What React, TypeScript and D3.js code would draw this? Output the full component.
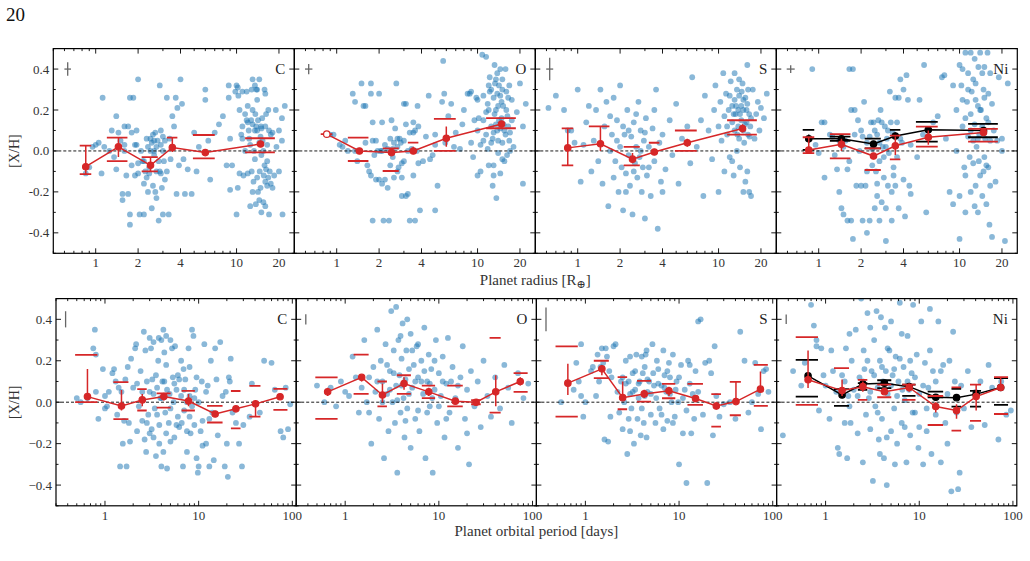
import * as d3 from "d3";

// bin centres and the x-span of the percentile dashes, shared by every panel in a row
const RADIUS_BINS = [0.85, 1.45, 2.45, 3.5, 6.0, 14.8];
const RADIUS_SPANS = [[0.77, 0.93], [1.2, 1.68], [2.12, 2.76], [3.2, 3.8], [4.9, 7.0], [11.5, 18.7]];
const PERIOD_BINS = [0.65, 1.5, 2.5, 4.25, 7.8, 15, 25, 40.5, 74];
const PERIOD_SPANS = [[0.48, 0.83], [1.23, 1.78], [2.21, 2.79], [3.56, 5.03], [6.58, 9.12], [12.3, 18], [22.1, 28], [34.8, 45.7], [62.8, 88.7]];

const RADIUS_TICKS = [1, 2, 4, 10, 20];
const PERIOD_TICKS = [1, 10, 100];
const ELEMENTS = ["C", "O", "S", "Ni"];

// [mean, err low, err high, lower dash, upper dash]
type Bin = (number | null)[];

const BIN_R_C: Bin[] = [
  [-0.077, -0.113, 0.026, -0.113, 0.026],
  [0.02, -0.03, 0.065, -0.05, 0.065],
  [-0.07, -0.1, -0.03, -0.1, -0.03],
  [0.017, -0.005, 0.065, null, 0.065],
  [-0.008, -0.02, 0.01, -0.036, 0.078],
  [0.034, 0.02, 0.045, -0.007, 0.062],
];
const BIN_R_O: Bin[] = [
  [0.082, null, null, null, 0.082],
  [0.0, null, null, -0.049, 0.065],
  [-0.008, -0.02, 0.0, -0.098, 0.013],
  [0.0, -0.01, 0.02, null, 0.041],
  [0.062, 0.021, 0.119, 0.0, 0.157],
  [0.132, 0.12, 0.145, 0.111, 0.16],
];
const BIN_R_S: Bin[] = [
  [0.015, -0.07, 0.11, -0.07, 0.11],
  [0.035, 0.0, 0.12, null, 0.12],
  [-0.04, -0.06, -0.01, -0.07, 0.02],
  [-0.005, -0.02, 0.01, null, 0.04],
  [0.04, 0.02, 0.06, 0.0, 0.1],
  [0.11, 0.09, 0.13, 0.08, 0.15],
];
const BIN_R_NI: Bin[] = [
  [0.005, 0.0, 0.067, -0.011, 0.067],
  [0.033, 0.0, 0.06, -0.036, 0.082],
  [-0.025, -0.04, -0.01, -0.093, 0.013],
  [0.025, -0.02, 0.07, -0.041, 0.075],
  [0.067, 0.03, 0.1, 0.021, 0.119],
  [0.09, 0.08, 0.1, 0.046, 0.108],
];
const BIN_R_NI_BLACK: Bin[] = [
  [0.059, 0.04, 0.08, 0.005, 0.103],
  [0.059, 0.05, 0.07, 0.049, 0.07],
  [0.034, 0.03, 0.04, 0.013, 0.06],
  [0.073, 0.06, 0.09, null, 0.103],
  [0.103, 0.09, 0.11, 0.046, 0.142],
  [0.1, 0.09, 0.11, 0.067, 0.132],
];

const BIN_P_C: Bin[] = [
  [0.027, 0.027, 0.16, 0.0, 0.228],
  [-0.018, -0.04, 0.059, -0.082, 0.097],
  [0.011, -0.02, 0.04, -0.04, 0.063],
  [0.027, 0.01, 0.04, -0.026, 0.043],
  [0.006, -0.02, 0.04, -0.04, 0.055],
  [-0.057, -0.07, -0.045, -0.098, -0.018],
  [-0.032, -0.04, -0.02, -0.126, 0.054],
  [-0.008, -0.07, 0.0, -0.07, 0.079],
  [0.026, 0.015, 0.035, -0.037, 0.064],
];
const BIN_P_O: Bin[] = [
  [0.05, 0.03, 0.07, -0.08, 0.12],
  [0.12, 0.1, 0.13, 0.04, 0.23],
  [0.035, 0.0, 0.09, -0.02, 0.1],
  [0.09, 0.06, 0.12, 0.04, 0.13],
  [0.05, 0.03, 0.07, 0.02, 0.08],
  [0.005, -0.01, 0.02, -0.02, 0.08],
  [0.0, -0.01, 0.01, -0.01, 0.01],
  [0.05, -0.02, 0.13, -0.05, 0.31],
  [0.1, 0.08, 0.12, 0.05, 0.14],
];
const BIN_P_S: Bin[] = [
  [0.092, 0.035, 0.185, -0.07, 0.269],
  [0.161, 0.13, 0.18, 0.116, 0.2],
  [0.022, 0.02, 0.1, -0.034, 0.121],
  [0.04, 0.02, 0.06, 0.003, 0.103],
  [0.055, 0.03, 0.075, 0.019, 0.088],
  [0.018, 0.0, 0.035, -0.013, 0.088],
  [-0.018, -0.035, 0.0, -0.118, 0.039],
  [0.003, 0.0, 0.098, -0.063, 0.098],
  [0.063, 0.063, 0.148, -0.018, 0.18],
];
const BIN_P_NI: Bin[] = [
  [0.108, 0.068, 0.249, -0.013, 0.314],
  [0.056, 0.03, 0.11, null, 0.164],
  [0.075, 0.05, 0.1, 0.011, 0.108],
  [0.051, 0.04, 0.065, 0.024, 0.085],
  [0.071, 0.05, 0.09, 0.011, 0.085],
  [-0.021, -0.05, 0.0, -0.11, 0.03],
  [-0.04, -0.08, -0.01, -0.137, 0.072],
  [0.027, -0.04, 0.085, -0.09, 0.085],
  [0.071, 0.071, 0.12, -0.057, 0.121],
];
const BIN_P_NI_BLACK: Bin[] = [
  [0.127, 0.11, 0.14, 0.027, 0.204],
  [0.035, 0.02, 0.05, -0.018, 0.063],
  [0.088, 0.08, 0.1, 0.06, 0.092],
  [0.092, 0.085, 0.1, 0.068, 0.106],
  [0.075, 0.06, 0.09, 0.031, 0.085],
  [0.024, 0.015, 0.035, 0.024, 0.051],
  [0.022, 0.015, 0.03, -0.021, 0.064],
  [0.039, 0.03, 0.05, -0.021, 0.055],
  [0.071, 0.06, 0.08, -0.013, 0.116],
];

// typical uncertainty shown in the upper-left corner of each panel
const CROSS_R = [[0.033, 3.3], [0.025, 3.7], [0.055, 3.5], [0.019, 4]];
const CROSS_P = [0.039, 0.025, 0.057, 0.023];

// individual planets: [x, [X/H]]
const R_C = [[0.85,-0.11],[0.9,-0.08],[0.95,0.02],[1.0,0.03],[1.05,0.04],[1.1,-0.11],[1.12,0.26],[1.15,0.02],[1.25,0.0],[1.3,0.1],[1.35,-0.03],[1.4,0.17],[1.4,-0.09],[1.45,0.09],[1.5,0.05],[1.55,-0.21],[1.55,-0.24],[1.6,0.12],[1.6,0.03],[1.65,-0.12],[1.7,0.12],[1.7,-0.21],[1.75,0.26],[1.75,-0.31],[1.75,-0.36],[1.8,0.09],[1.8,-0.07],[1.85,0.26],[1.9,-0.12],[1.95,0.1],[1.95,0.03],[2.0,0.35],[2.0,-0.11],[2.05,-0.31],[2.1,0.0],[2.15,-0.05],[2.2,-0.16],[2.2,-0.31],[2.25,-0.1],[2.3,0.06],[2.35,0.02],[2.4,-0.11],[2.4,-0.08],[2.45,0.06],[2.5,0.04],[2.5,-0.28],[2.55,-0.17],[2.55,0.08],[2.6,0.0],[2.6,-0.02],[2.65,-0.2],[2.7,-0.23],[2.7,-0.1],[2.75,0.05],[2.8,-0.34],[2.85,0.32],[2.85,-0.1],[2.9,0.1],[2.9,0.03],[2.95,-0.18],[3.0,-0.31],[3.0,0.07],[3.05,-0.05],[3.1,-0.14],[3.2,0.26],[3.3,-0.31],[3.35,0.06],[3.5,0.17],[3.6,0.12],[3.7,0.26],[3.75,-0.21],[3.8,0.21],[3.9,-0.07],[4.0,0.35],[4.1,0.23],[4.2,-0.04],[4.3,-0.21],[4.5,-0.09],[4.8,-0.21],[5.0,0.09],[5.2,-0.1],[5.4,0.02],[6.0,0.3],[6.0,0.25],[6.5,-0.14],[6.3,0.05],[7.0,0.09],[7.5,0.13],[8.0,0.17],[8.5,-0.07],[8.8,0.32],[8.8,0.26],[9.0,0.06],[9.0,-0.19],[9.3,-0.07],[9.8,0.29],[10.0,0.32],[10.2,0.31],[10.2,-0.18],[10.0,-0.31],[10.5,0.2],[10.5,-0.11],[10.8,0.08],[11.0,0.29],[11.0,0.06],[11.2,-0.12],[11.5,0.18],[11.5,0.0],[11.8,0.29],[12.0,0.14],[12.0,-0.11],[12.2,0.1],[12.5,-0.27],[12.5,0.03],[12.8,0.3],[12.8,-0.1],[13.0,0.35],[13.0,0.2],[13.0,0.13],[13.2,-0.15],[13.5,0.32],[13.5,0.1],[13.5,-0.04],[13.8,0.3],[13.8,0.12],[14.0,0.25],[14.0,0.1],[14.0,-0.13],[14.2,-0.2],[14.5,0.35],[14.5,0.04],[14.5,-0.24],[14.8,0.07],[14.8,-0.18],[15.0,0.11],[15.0,-0.02],[15.0,-0.3],[15.2,0.16],[15.5,-0.25],[15.5,0.0],[15.8,-0.07],[16.0,0.28],[16.0,0.12],[16.0,-0.15],[16.2,-0.09],[16.5,0.03],[16.5,-0.17],[16.8,0.2],[16.8,-0.13],[17,-0.31],[17.2,-0.1],[17.5,0.08],[18.0,-0.18],[18.5,-0.12],[19.0,0.2],[19.2,0.02],[20.0,0.1],[21.0,0.16],[21.2,-0.31],[21.0,0.05],[22.0,0.22],
  [2.2,-0.05],[2.3,-0.13],[2.45,0.0],[2.6,0.05],[2.7,0.02],[2.8,-0.05],[2.9,-0.11],[3.0,0.0],[3.1,0.05],[3.2,-0.1],[2.35,-0.2],[2.65,0.09],[3.4,-0.04],[1.6,0.0],[1.9,0.03],[2.0,-0.06],[11.8,0.15],[12.3,0.06],[12.7,0.15],[13.3,0.0],[13.6,0.18],[14.2,0.15],[14.6,-0.1],[14.9,0.12],[15.3,0.05],[15.6,-0.12],[16.2,0.18],[16.5,-0.05],[17.0,0.1],[17.5,-0.16],[13.0,-0.2],[12.0,0.22],[11.0,0.12],[10.3,0.27],[14.0,0.3],[15.8,0.3],[13.7,-0.26],[16.0,-0.27],[18.0,0.09],[20.0,-0.1]];
const R_O = [[0.85,0.08],[0.9,0.08],[0.95,0.08],[1.05,0.03],[1.1,0.02],[1.15,0.05],[1.2,0.0],[1.3,0.28],[1.35,0.24],[1.35,0.0],[1.4,-0.05],[1.5,0.33],[1.55,0.22],[1.6,0.04],[1.6,0.22],[1.65,-0.07],[1.7,-0.1],[1.75,-0.12],[1.75,0.33],[1.75,0.28],[1.8,0.14],[1.8,0.05],[1.8,-0.34],[1.85,-0.02],[1.9,-0.14],[1.95,0.0],[2.0,-0.14],[2.0,0.28],[2.05,0.0],[2.1,-0.16],[2.1,0.14],[2.15,-0.34],[2.2,-0.14],[2.2,0.03],[2.3,-0.18],[2.35,-0.34],[2.4,0.06],[2.45,0.15],[2.5,0.01],[2.55,-0.13],[2.55,0.04],[2.6,0.11],[2.65,0.33],[2.7,0.06],[2.7,-0.1],[2.75,-0.08],[2.8,0.06],[2.85,0.04],[2.9,-0.06],[2.9,-0.22],[3.0,0.23],[3.0,-0.05],[3.1,0.23],[3.1,0.13],[3.1,-0.22],[3.2,0.0],[3.2,-0.21],[3.3,-0.34],[3.4,0.01],[3.5,0.09],[3.5,0.14],[3.6,0.1],[3.6,-0.34],[3.7,0.0],[3.75,0.22],[3.8,-0.06],[3.8,0.12],[3.9,-0.29],[4.1,-0.05],[4.3,0.07],[4.5,0.27],[4.6,-0.04],[4.8,-0.02],[5.0,0.03],[5.0,0.08],[5.0,-0.29],[5.2,-0.17],[5.6,0.24],[5.7,0.44],[5.8,0.28],[5.9,0.04],[6.2,0.17],[6.5,0.23],[6.8,0.02],[7.0,0.09],[7.5,0.01],[7.8,0.13],[8.0,0.2],[8.5,0.28],[8.8,0.28],[9.0,0.29],[9.3,-0.03],[9.5,0.15],[9.8,0.26],[10.0,0.25],[10.0,-0.12],[10.2,0.16],[10.5,-0.1],[10.5,0.03],[10.8,0.47],[11.0,0.15],[11.0,0.05],[11.5,0.46],[11.5,0.08],[11.8,0.23],[11.8,0.01],[12.0,0.2],[12.0,-0.07],[12.2,0.36],[12.2,0.29],[12.5,0.12],[12.5,0.04],[12.8,-0.17],[13.0,0.26],[13.0,0.09],[13.0,-0.07],[13.2,0.42],[13.3,0.33],[13.5,0.2],[13.5,0.13],[13.6,-0.23],[13.8,0.28],[13.8,0.38],[14.0,0.22],[14.0,0.05],[14.0,-0.01],[14.2,0.32],[14.5,0.27],[14.5,0.11],[14.5,-0.11],[14.8,0.16],[15.0,0.35],[15.0,0.04],[15.0,-0.04],[15.2,0.22],[15.5,0.1],[15.5,-0.05],[15.8,0.4],[16.0,0.29],[16.0,0.2],[16.2,-0.02],[16.5,0.12],[16.5,0.26],[16.8,0.32],[17,0.0],[17,0.09],[17.5,0.15],[18,0.02],[19,0.19],[20,0.33],[21,0.12],[21,-0.16],[22,0.23],
  [2.3,0.01],[2.5,-0.03],[2.7,0.02],[3.0,0.05],[3.3,0.09],[3.5,-0.12],[2.9,-0.13],[2.4,-0.07],[1.9,0.05],[2.1,0.0],[11.5,0.19],[12.5,0.3],[13.2,0.18],[13.8,0.1],[14.2,0.15],[14.8,0.24],[15.3,0.13],[15.8,0.08],[16.3,0.17],[12.8,0.06],[13.5,0.35],[14.5,0.4],[11.0,0.27],[16.8,0.05],[17.5,0.25],[12.0,0.32],[13.0,-0.12],[15.0,0.3],[10.0,0.1],[9.0,0.04]];
const R_S = [[0.62,0.21],[0.7,0.27],[0.8,0.2],[0.85,0.1],[0.9,0.1],[0.95,0.04],[1.0,0.3],[1.05,-0.15],[1.1,0.03],[1.15,0.14],[1.2,0.22],[1.25,-0.1],[1.3,0.05],[1.35,0.2],[1.4,-0.05],[1.45,0.3],[1.5,-0.16],[1.55,0.12],[1.6,0.24],[1.65,-0.27],[1.7,0.0],[1.75,0.08],[1.8,-0.13],[1.8,0.26],[1.85,-0.05],[1.9,0.15],[1.95,-0.2],[2.0,0.02],[2.0,0.32],[2.05,-0.08],[2.1,-0.29],[2.15,0.08],[2.2,-0.11],[2.25,0.2],[2.3,-0.02],[2.35,-0.17],[2.4,0.07],[2.45,-0.31],[2.5,0.14],[2.55,-0.06],[2.6,0.02],[2.65,-0.13],[2.7,0.24],[2.75,-0.03],[2.8,0.1],[2.85,-0.2],[2.9,-0.08],[2.95,0.05],[3.0,-0.33],[3.05,0.16],[3.1,-0.12],[3.2,0.02],[3.3,-0.22],[3.4,0.11],[3.5,-0.05],[3.6,0.3],[3.7,-0.38],[3.8,0.04],[3.9,-0.15],[4.0,0.08],[4.2,-0.09],[4.5,0.15],[4.7,-0.02],[5.0,0.23],[5.2,-0.16],[5.5,0.06],[6.0,0.12],[6.3,-0.06],[6.5,0.36],[7.0,0.02],[7.5,0.15],[7.8,-0.22],[8.0,0.27],[8.5,0.1],[9.0,-0.04],[9.3,0.2],[9.5,0.32],[10.0,0.12],[10.0,-0.2],[10.3,0.24],[10.5,0.05],[10.8,0.38],[11.0,0.17],[11.0,-0.1],[11.3,0.28],[11.5,0.08],[11.8,0.2],[12.0,-0.03],[12.2,0.34],[12.5,0.14],[12.5,0.22],[12.8,-0.12],[13.0,0.25],[13.0,0.1],[13.2,0.18],[13.5,0.3],[13.5,0.0],[13.8,0.2],[13.8,0.12],[14.0,0.27],[14.0,0.06],[14.2,-0.08],[14.5,0.22],[14.5,0.15],[14.8,0.33],[15.0,0.1],[15.0,0.2],[15.2,0.04],[15.5,0.26],[15.5,-0.15],[15.8,0.14],[16.0,0.23],[16.0,0.42],[16.2,0.08],[16.5,-0.2],[16.5,0.18],[16.8,0.12],[17.0,-0.22],[17.5,0.3],[18.0,0.06],[18.5,0.18],[19.0,0.24],[19.5,0.1],[20.0,0.21],[21.0,0.16],[22.0,0.28],
  [11.5,0.12],[12.0,0.27],[12.8,0.18],[13.3,0.22],[13.6,0.08],[14.2,0.18],[14.6,0.29],[15.0,0.25],[15.4,0.13],[15.8,0.2],[16.2,0.3],[16.6,0.07],[17.0,0.16],[13.0,0.38],[14.0,0.35],[12.5,-0.05],[15.0,-0.2],[16.0,-0.1],[2.3,0.1],[2.5,-0.1],[2.8,0.0],[3.0,0.09],[2.2,-0.2],[2.6,0.18],[3.2,-0.08],[1.7,0.17],[1.9,0.05],[2.1,0.12],[3.5,0.2],[4.0,-0.2]];
const R_NI = [[0.9,0.4],[0.95,0.03],[1.0,-0.01],[1.05,0.14],[1.1,0.14],[1.1,-0.13],[1.2,0.08],[1.25,0.07],[1.3,-0.02],[1.35,-0.09],[1.4,0.05],[1.4,-0.2],[1.45,-0.28],[1.5,0.02],[1.5,-0.31],[1.55,0.05],[1.6,-0.09],[1.6,-0.34],[1.65,0.4],[1.65,-0.05],[1.7,0.2],[1.7,-0.34],[1.75,0.4],[1.75,-0.43],[1.8,0.2],[1.8,0.08],[1.85,-0.17],[1.9,0.15],[1.95,0.0],[2.0,-0.17],[2.05,0.07],[2.05,-0.34],[2.1,0.24],[2.15,-0.17],[2.2,0.04],[2.2,-0.4],[2.3,-0.34],[2.35,0.14],[2.4,0.01],[2.4,-0.07],[2.45,0.14],[2.5,-0.28],[2.55,-0.1],[2.6,0.08],[2.6,-0.16],[2.65,0.15],[2.7,-0.34],[2.7,-0.05],[2.75,0.2],[2.8,-0.25],[2.85,0.02],[2.9,-0.13],[2.95,0.12],[3.0,-0.44],[3.0,-0.28],[3.05,0.06],[3.1,-0.17],[3.15,-0.01],[3.2,0.29],[3.25,0.14],[3.3,-0.34],[3.35,0.09],[3.4,-0.08],[3.5,0.26],[3.5,-0.17],[3.6,0.14],[3.6,-0.03],[3.7,0.26],[3.7,-0.28],[3.8,0.35],[3.8,0.06],[3.9,0.04],[4.0,0.3],[4.0,-0.14],[4.1,-0.32],[4.2,0.37],[4.3,0.25],[4.4,-0.17],[4.5,0.03],[4.5,-0.21],[5.0,-0.03],[5.2,0.25],[5.5,0.08],[5.6,0.42],[5.8,-0.3],[6.0,0.1],[6.5,0.14],[7.0,0.17],[7.5,0.36],[7.8,0.37],[8.0,0.06],[8.5,-0.2],[9.0,0.32],[9.0,-0.26],[9.5,0.2],[9.5,0.0],[10.0,0.42],[10.0,-0.22],[10.0,-0.43],[10.3,0.32],[10.5,0.12],[10.5,0.4],[10.8,-0.08],[11.0,0.48],[11.0,0.16],[11.0,-0.12],[11.3,0.24],[11.5,0.07],[11.5,0.38],[11.8,-0.03],[12.0,0.48],[12.0,-0.2],[12.0,0.18],[12.2,0.29],[12.5,0.05],[12.5,-0.06],[12.8,0.45],[12.8,0.13],[13.0,-0.17],[13.0,0.33],[13.2,0.02],[13.5,0.22],[13.5,-0.3],[13.6,0.41],[13.8,0.08],[14.0,-0.12],[14.0,0.48],[14.2,0.2],[14.5,0.12],[14.5,-0.22],[14.8,0.3],[15.0,-0.03],[15.0,0.41],[15.2,0.06],[15.5,-0.26],[15.5,0.16],[15.8,0.48],[16.0,-0.08],[16.0,0.28],[16.3,-0.36],[16.5,0.38],[16.5,-0.17],[17,0.23],[17,-0.42],[17.5,0.1],[18,-0.15],[18.5,0.05],[19,0.36],[20,0.0],[20,0.06],[21,-0.44],[22,0.33],
  [2.3,0.07],[2.5,0.1],[2.7,0.04],[2.9,-0.03],[3.1,0.1],[3.3,-0.2],[2.6,-0.22],[2.8,0.14],[3.0,0.02],[3.4,-0.12],[2.0,0.1],[2.2,-0.1],[11.5,0.3],[12.0,0.1],[12.5,0.35],[13.0,0.25],[13.5,0.06],[14.0,0.2],[14.5,0.38],[15.0,0.26],[15.5,-0.07],[16.0,0.14],[11.0,-0.3],[12.8,-0.27],[14.8,-0.1],[16.5,0.05],[10.5,0.25],[13.7,-0.05]];

const P_C = [[0.5,0.02],[0.55,0.0],[0.65,0.02],[0.75,0.26],[0.78,0.35],[0.8,0.23],[0.8,0.05],[0.85,-0.08],[0.95,0.16],[1.0,-0.03],[1.0,0.03],[1.05,-0.02],[1.1,0.05],[1.2,0.14],[1.25,0.16],[1.3,0.1],[1.35,-0.06],[1.4,0.07],[1.45,-0.31],[1.5,0.05],[1.55,-0.2],[1.6,-0.09],[1.65,0.11],[1.7,-0.31],[1.75,0.17],[1.8,-0.1],[1.85,-0.19],[1.9,0.21],[2.0,0.07],[2.1,0.26],[2.15,0.28],[2.2,0.09],[2.3,-0.02],[2.4,0.15],[2.5,0.05],[2.6,0.34],[2.65,-0.18],[2.7,0.25],[2.75,-0.24],[2.8,0.1],[2.9,-0.06],[3.0,0.31],[3.0,-0.15],[3.1,0.26],[3.15,-0.13],[3.2,0.11],[3.3,0.29],[3.3,-0.17],[3.4,-0.03],[3.5,-0.26],[3.6,0.07],[3.7,0.2],[3.75,0.31],[3.8,-0.11],[3.9,0.02],[4.0,0.3],[4.0,-0.31],[4.1,0.1],[4.2,-0.24],[4.2,0.35],[4.3,0.24],[4.4,-0.05],[4.5,0.32],[4.5,0.18],[4.6,-0.32],[4.8,-0.1],[4.9,0.04],[5.0,0.3],[5.0,-0.19],[5.2,0.26],[5.3,0.12],[5.5,-0.17],[5.6,0.27],[5.8,0.06],[6.0,0.13],[6.0,-0.07],[6.2,-0.12],[6.5,0.03],[6.8,-0.31],[6.9,0.16],[7.0,-0.04],[7.2,0.11],[7.5,-0.24],[7.8,0.26],[8.0,0.17],[8.0,0.03],[8.2,-0.15],[8.5,0.35],[8.8,0.32],[9.0,-0.11],[9.2,0.06],[9.5,-0.27],[9.8,-0.34],[10.0,-0.31],[10.5,-0.14],[10.8,0.1],[11.0,-0.21],[11.5,0.28],[12.0,-0.2],[12.5,0.08],[13.0,-0.31],[13.5,0.2],[14.0,-0.05],[14.5,-0.28],[15.0,0.26],[15.5,0.11],[16.0,-0.16],[17.0,0.29],[18.0,0.03],[19.0,-0.31],[19.5,0.05],[20.0,-0.2],[20.5,-0.36],[21.0,0.12],[21.5,0.1],[22.0,0.21],[23.0,-0.05],[25.0,-0.1],[27.0,-0.2],[29.0,-0.31],[30.0,-0.11],[35.0,-0.07],[37.0,0.09],[45.0,-0.05],[50.0,0.2],[60.0,0.19],[65.0,0.06],[75.0,-0.14],[80.0,-0.17],[85.0,0.07],[90.0,-0.13],[95.0,-0.01],
  [2.5,-0.09],[2.8,-0.1],[3.0,0.05],[3.3,0.04],[3.6,-0.06],[4.0,0.02],[4.3,0.1],[4.6,0.06],[5.0,-0.03],[5.4,0.0],[5.8,-0.11],[6.2,0.11],[6.6,-0.1],[7.0,0.06],[7.5,0.0],[8.0,-0.07],[8.5,-0.02],[9.0,0.02],[10.0,0.0],[11.0,-0.09],[12.0,0.05],[13.0,-0.08],[3.5,0.13],[4.5,-0.15],[5.5,0.09],[6.5,0.2],[7.5,-0.14],[9.5,0.12],[2.2,-0.14],[3.8,-0.2]];
const P_O = [[0.5,0.08],[0.6,0.0],[0.7,0.07],[0.8,-0.02],[0.9,0.1],[1.0,0.05],[1.1,0.03],[1.2,0.22],[1.3,0.12],[1.4,-0.05],[1.5,0.07],[1.6,0.3],[1.7,0.0],[1.8,0.12],[1.9,-0.2],[2.0,0.17],[2.1,0.05],[2.2,0.35],[2.3,-0.08],[2.4,0.2],[2.5,0.1],[2.6,-0.27],[2.7,0.28],[2.8,0.04],[2.9,-0.14],[3.0,0.15],[3.1,0.44],[3.2,0.0],[3.3,0.25],[3.4,-0.1],[3.5,0.46],[3.5,0.08],[3.6,-0.34],[3.7,0.3],[3.8,0.13],[3.9,-0.05],[4.0,0.21],[4.1,0.38],[4.2,0.02],[4.3,-0.17],[4.4,0.11],[4.5,0.25],[4.6,-0.03],[4.8,0.16],[5.0,0.33],[5.0,-0.22],[5.2,0.07],[5.4,0.18],[5.6,-0.08],[5.8,0.27],[6.0,0.12],[6.2,-0.14],[6.5,0.2],[6.8,0.04],[7.0,0.36],[7.2,-0.27],[7.5,0.1],[7.8,0.23],[8.0,-0.02],[8.3,0.16],[8.6,-0.34],[9.0,0.06],[9.3,0.3],[9.6,-0.1],[10.0,0.14],[10.5,0.03],[11.0,0.22],[11.5,-0.17],[12.0,0.09],[12.5,0.31],[13.0,-0.05],[14.0,0.17],[15.0,0.02],[16.0,-0.22],[17.0,0.12],[18.0,0.27],[19.0,-0.08],[20.0,0.06],[21.0,-0.3],[22.0,0.15],[24.0,-0.02],[26.0,0.1],[28.0,-0.12],[30.0,0.2],[33.0,0.03],[36.0,-0.07],[40.0,0.12],[45.0,-0.03],[50.0,0.18],[55.0,0.07],[60.0,-0.1],[70.0,0.14],[80.0,0.02],[90.0,0.09],
  [2.5,0.0],[2.8,0.18],[3.0,0.06],[3.3,0.14],[3.6,0.01],[4.0,0.08],[4.4,-0.09],[4.8,0.04],[5.2,0.25],[5.6,0.1],[6.0,-0.04],[6.5,0.1],[7.0,0.15],[7.5,-0.05],[8.0,0.09],[8.5,0.02],[9.0,0.2],[10.0,-0.02],[11.0,0.1],[12.0,-0.08],[3.9,0.32],[4.6,0.4],[6.0,0.28],[2.2,0.1],[1.8,-0.05],[13.5,0.1],[16.0,0.08],[20.0,-0.15]];
const P_S = [[0.55,0.0],[0.75,0.06],[0.8,0.19],[0.85,0.1],[0.9,0.28],[0.9,0.03],[0.95,-0.07],[1.0,0.0],[1.15,0.15],[1.2,0.17],[1.3,0.03],[1.35,0.23],[1.4,0.1],[1.45,0.17],[1.5,0.26],[1.55,0.19],[1.6,-0.18],[1.65,0.26],[1.7,0.22],[1.75,-0.19],[1.8,0.15],[1.85,-0.07],[1.9,0.12],[2.0,0.27],[2.1,0.28],[2.2,0.05],[2.3,-0.05],[2.4,0.1],[2.5,-0.13],[2.6,0.0],[2.7,0.2],[2.8,-0.25],[2.9,0.1],[3.0,0.04],[3.0,0.22],[3.1,-0.03],[3.2,0.14],[3.3,-0.2],[3.4,0.06],[3.5,0.23],[3.6,-0.08],[3.7,0.02],[3.8,0.1],[3.9,-0.16],[4.0,0.22],[4.1,0.14],[4.2,-0.1],[4.3,0.03],[4.4,0.23],[4.5,-0.17],[4.6,0.05],[4.8,0.1],[5.0,-0.06],[5.2,0.28],[5.4,0.08],[5.6,-0.1],[5.8,0.2],[6.0,0.16],[6.2,-0.03],[6.5,0.08],[6.8,-0.13],[7.0,0.13],[7.3,0.05],[7.5,-0.09],[7.8,0.19],[8.0,0.12],[8.3,0.0],[8.6,0.23],[9.0,-0.07],[9.4,0.1],[9.8,0.0],[10.0,-0.3],[10.5,0.18],[11.0,-0.15],[11.5,0.06],[12.0,-0.39],[12.5,0.2],[13.0,0.09],[13.5,-0.15],[14.0,0.04],[15.0,0.15],[16.0,0.39],[17.0,0.4],[18.0,-0.06],[19.0,0.19],[20.0,-0.39],[21.0,0.2],[22.0,0.14],[23.0,-0.16],[24.0,0.27],[25.0,0.03],[27.0,-0.07],[30.0,-0.01],[35.0,0.0],[40.0,-0.08],[45.0,0.34],[50.0,0.2],[55.0,-0.05],[60.0,0.0],[65.0,0.19],[70.0,0.04],[75.0,-0.13],[80.0,0.15],[85.0,0.16],[90.0,0.05],
  [2.5,0.12],[2.9,-0.08],[3.2,0.05],[3.4,0.15],[3.7,0.09],[4.0,-0.03],[4.3,0.17],[4.6,0.11],[5.0,0.04],[5.3,0.14],[5.7,0.02],[6.0,0.09],[6.5,-0.06],[7.0,0.07],[7.5,0.15],[8.0,0.04],[8.6,-0.1],[9.2,0.06],[10.0,0.12],[11.0,0.02],[12.0,-0.04],[13.0,0.18],[3.0,-0.14],[4.5,0.25],[2.7,0.09],[6.8,0.25],[14.5,-0.08],[16.0,0.05]];
const P_NI = [[0.35,-0.16],[0.45,0.15],[0.55,0.08],[0.6,0.19],[0.7,0.47],[0.75,0.37],[0.8,0.3],[0.8,0.27],[0.85,-0.04],[0.9,0.26],[0.95,0.13],[1.0,0.08],[1.1,-0.08],[1.15,0.25],[1.2,0.15],[1.3,0.05],[1.35,-0.22],[1.4,-0.25],[1.5,0.13],[1.6,0.1],[1.6,-0.1],[1.65,0.26],[1.7,-0.27],[1.75,0.03],[1.8,0.33],[1.85,-0.1],[1.9,0.2],[2.0,0.06],[2.1,0.35],[2.2,-0.15],[2.3,0.12],[2.4,0.5],[2.5,-0.29],[2.55,0.25],[2.6,0.16],[2.7,-0.06],[2.8,0.43],[2.9,0.02],[3.0,0.36],[3.0,-0.13],[3.1,0.15],[3.2,-0.38],[3.3,0.3],[3.4,-0.02],[3.5,0.44],[3.6,0.07],[3.7,-0.18],[3.8,0.2],[3.9,0.41],[4.0,-0.08],[4.1,0.1],[4.2,-0.27],[4.3,0.36],[4.4,0.15],[4.5,-0.4],[4.6,0.04],[4.8,0.25],[5.0,-0.14],[5.0,0.39],[5.2,0.13],[5.4,-0.03],[5.6,0.22],[5.8,-0.2],[6.0,0.1],[6.2,0.48],[6.5,-0.1],[6.8,0.17],[7.0,0.01],[7.3,-0.29],[7.5,0.32],[7.8,0.06],[8.0,-0.16],[8.3,0.14],[8.6,0.47],[9.0,-0.05],[9.4,0.23],[9.8,-0.22],[10.0,0.04],[10.5,0.39],[11.0,-0.3],[11.5,0.19],[12.0,-0.14],[12.5,0.07],[13.0,0.45],[13.5,-0.25],[14.0,0.15],[15.0,-0.06],[16.0,0.39],[17.0,-0.29],[18.0,0.18],[19.0,-0.1],[20.0,0.04],[21.0,0.2],[22.0,-0.43],[23.0,0.34],[24.0,0.1],[26.0,-0.42],[27.0,-0.34],[28.0,0.08],[30.0,-0.03],[33.0,0.15],[36.0,-0.12],[40.0,0.05],[45.0,0.1],[50.0,-0.11],[55.0,0.18],[60.0,0.07],[70.0,-0.18],[75.0,0.1],[85.0,-0.06],[95.0,-0.04],
  [2.5,0.1],[2.8,0.2],[3.0,0.05],[3.3,0.13],[3.6,-0.05],[4.0,0.17],[4.3,0.05],[4.6,0.26],[5.0,0.08],[5.4,0.16],[5.8,0.03],[6.2,0.21],[6.6,0.06],[7.0,-0.12],[7.5,0.1],[8.0,0.2],[8.5,-0.05],[9.0,0.12],[10.0,-0.12],[11.0,0.08],[12.0,-0.03],[13.0,0.25],[3.8,-0.25],[4.5,-0.17],[5.5,-0.3],[6.5,0.33],[2.2,0.03],[1.8,-0.02],[15.0,0.1],[17.0,0.15],[20.0,-0.2],[25.0,-0.05]];

const RED = "#d62728";
const BLUE = "#1f77b4";
const FONT = "'Liberation Serif', 'DejaVu Serif', serif";

function Series({ bins, xs, spans, x, y, color, openFirst = false }) {
  const line = d3.line<number>().x((_, i) => x(xs[i])).y((d) => y(d));
  return (
    <g>
      {bins.map((b, i) => (
        <g key={i}>
          {[b[3], b[4]].map((v, k) =>
            v == null ? null : (
              <line key={k} x1={x(spans[i][0])} x2={x(spans[i][1])} y1={y(v)} y2={y(v)} stroke={color} strokeWidth={1.8} />
            )
          )}
          {b[1] != null && b[2] != null && (
            <line x1={x(xs[i])} x2={x(xs[i])} y1={y(b[1])} y2={y(b[2])} stroke={color} strokeWidth={1.5} />
          )}
        </g>
      ))}
      <path d={line(bins.map((b) => b[0] as number)) ?? ""} fill="none" stroke={color} strokeWidth={1.5} />
      {bins.map((b, i) => (
        <circle key={i} cx={x(xs[i])} cy={y(b[0])} r={3.2}
          fill={openFirst && i === 0 ? "#fff" : color} stroke={color} strokeWidth={1.2} />
      ))}
    </g>
  );
}

function Panel({ id, left, top, width, height, xDomain, majors, pts, bins, black, xs, spans, label, yLabels, hyphen, cross, crossDx, openFirst }) {
  const x = d3.scaleLog().domain(xDomain).range([left, left + width]);
  const y = d3.scaleLinear().domain([-0.5, 0.5]).range([top + height, top]);
  const minors = x.ticks().filter((t) => !majors.includes(t));
  const yTicks = y.ticks(10);
  const bottom = top + height;
  const right = left + width;
  const fmt = d3.format(".1f");
  const cx = x(xDomain[0]) + (crossDx ? 14.4 : 9.6);
  return (
    <g>
      <defs>
        <clipPath id={id}>
          <rect x={left} y={top} width={width} height={height} />
        </clipPath>
      </defs>
      <g clipPath={`url(#${id})`}>
        {pts.map((p, i) => (
          <circle key={i} cx={x(p[0])} cy={y(p[1])} r={2.9} fill={BLUE} fillOpacity={0.52} />
        ))}
        <line x1={left} x2={right} y1={y(0)} y2={y(0)} stroke="#000" strokeWidth={0.9} strokeDasharray="3,2" />
        {black && <Series bins={black} xs={xs} spans={spans} x={x} y={y} color="#000" />}
        <Series bins={bins} xs={xs} spans={spans} x={x} y={y} color={RED} openFirst={openFirst} />
      </g>
      {/* typical uncertainty */}
      <g stroke="#666" strokeWidth={1.3}>
        <line x1={cx} x2={cx} y1={y(0.4 + cross)} y2={y(0.4 - cross)} />
        {crossDx ? <line x1={cx - crossDx} x2={cx + crossDx} y1={y(0.4)} y2={y(0.4)} /> : null}
      </g>
      <text x={right - 9} y={y(0.4) + 5} textAnchor="end" fontFamily={FONT} fontSize={15} fill="#222">{label}</text>
      {/* ticks */}
      <g stroke="#000" strokeWidth={0.9}>
        {majors.map((t) => (
          <g key={t}>
            <line x1={x(t)} x2={x(t)} y1={bottom} y2={bottom - 5} />
            <line x1={x(t)} x2={x(t)} y1={top} y2={top + 5} />
          </g>
        ))}
        {minors.map((t, i) => (
          <g key={i}>
            <line x1={x(t)} x2={x(t)} y1={bottom} y2={bottom - 2.5} />
            <line x1={x(t)} x2={x(t)} y1={top} y2={top + 2.5} />
          </g>
        ))}
        {yTicks.map((t, i) => {
          const major = Math.abs(Math.round(t * 10)) % 2 === 0;
          const len = major ? 5 : 2.5;
          return (
            <g key={i}>
              <line x1={left} x2={left + len} y1={y(t)} y2={y(t)} />
              <line x1={right} x2={right - len} y1={y(t)} y2={y(t)} />
            </g>
          );
        })}
      </g>
      <rect x={left} y={top} width={width} height={height} fill="none" stroke="#000" strokeWidth={1.2} />
      {majors.map((t) => (
        <text key={t} x={x(t)} y={bottom + 14} textAnchor="middle" fontFamily={FONT} fontSize={13} fill="#333">{t}</text>
      ))}
      {yLabels &&
        yTicks.filter((t) => Math.abs(Math.round(t * 10)) % 2 === 0 && Math.abs(t) < 0.45).map((t, i) => {
          let s = fmt(t);
          if (hyphen) s = s.replace("−", "-");
          return (
            <text key={i} x={left - 4} y={y(t) + 4.5} textAnchor="end" fontFamily={FONT} fontSize={13} fill="#333">{s}</text>
          );
        })}
    </g>
  );
}

export default function App() {
  const topRow = [R_C, R_O, R_S, R_NI];
  const topBins = [BIN_R_C, BIN_R_O, BIN_R_S, BIN_R_NI];
  const botRow = [P_C, P_O, P_S, P_NI];
  const botBins = [BIN_P_C, BIN_P_O, BIN_P_S, BIN_P_NI];
  const tw = 241, bw = 240.2;
  return (
    <svg width={1030} height={561} style={{ position: "absolute", left: 0, top: 0, background: "#fff" }}>
      <text x={6} y={21} fontFamily={FONT} fontSize={19} fill="#111">20</text>
      {ELEMENTS.map((el, i) => (
        <Panel key={"t" + el} id={"ct" + i} left={53.3 + tw * i} top={48.6} width={tw} height={204.7}
          xDomain={[0.5, 25.7]} majors={RADIUS_TICKS} pts={topRow[i]} bins={topBins[i]}
          black={i === 3 ? BIN_R_NI_BLACK : null} xs={RADIUS_BINS} spans={RADIUS_SPANS}
          label={el} yLabels={i === 0} hyphen cross={CROSS_R[i][0]} crossDx={CROSS_R[i][1]} openFirst={i === 1} />
      ))}
      {ELEMENTS.map((el, i) => (
        <Panel key={"b" + el} id={"cb" + i} left={56 + bw * i} top={298.6} width={bw} height={207.2}
          xDomain={[0.3, 110]} majors={PERIOD_TICKS} pts={botRow[i]} bins={botBins[i]}
          black={i === 3 ? BIN_P_NI_BLACK : null} xs={PERIOD_BINS} spans={PERIOD_SPANS}
          label={el} yLabels={i === 0} hyphen={false} cross={CROSS_P[i]} crossDx={0} openFirst={false} />
      ))}
      <text x={535.3} y={285} textAnchor="middle" fontFamily={FONT} fontSize={15} fill="#333">
        Planet radius [R<tspan fontSize={11} dy={3}>⊕</tspan><tspan dy={-3}>]</tspan>
      </text>
      <text x={536.4} y={536} textAnchor="middle" fontFamily={FONT} fontSize={15} fill="#333">Planet orbital period [days]</text>
      {[151, 402.3].map((cy) => (
        <text key={cy} transform={`translate(19,${cy}) rotate(-90)`} textAnchor="middle" fontFamily={FONT} fontSize={14} fill="#333">[X/H]</text>
      ))}
    </svg>
  );
}
